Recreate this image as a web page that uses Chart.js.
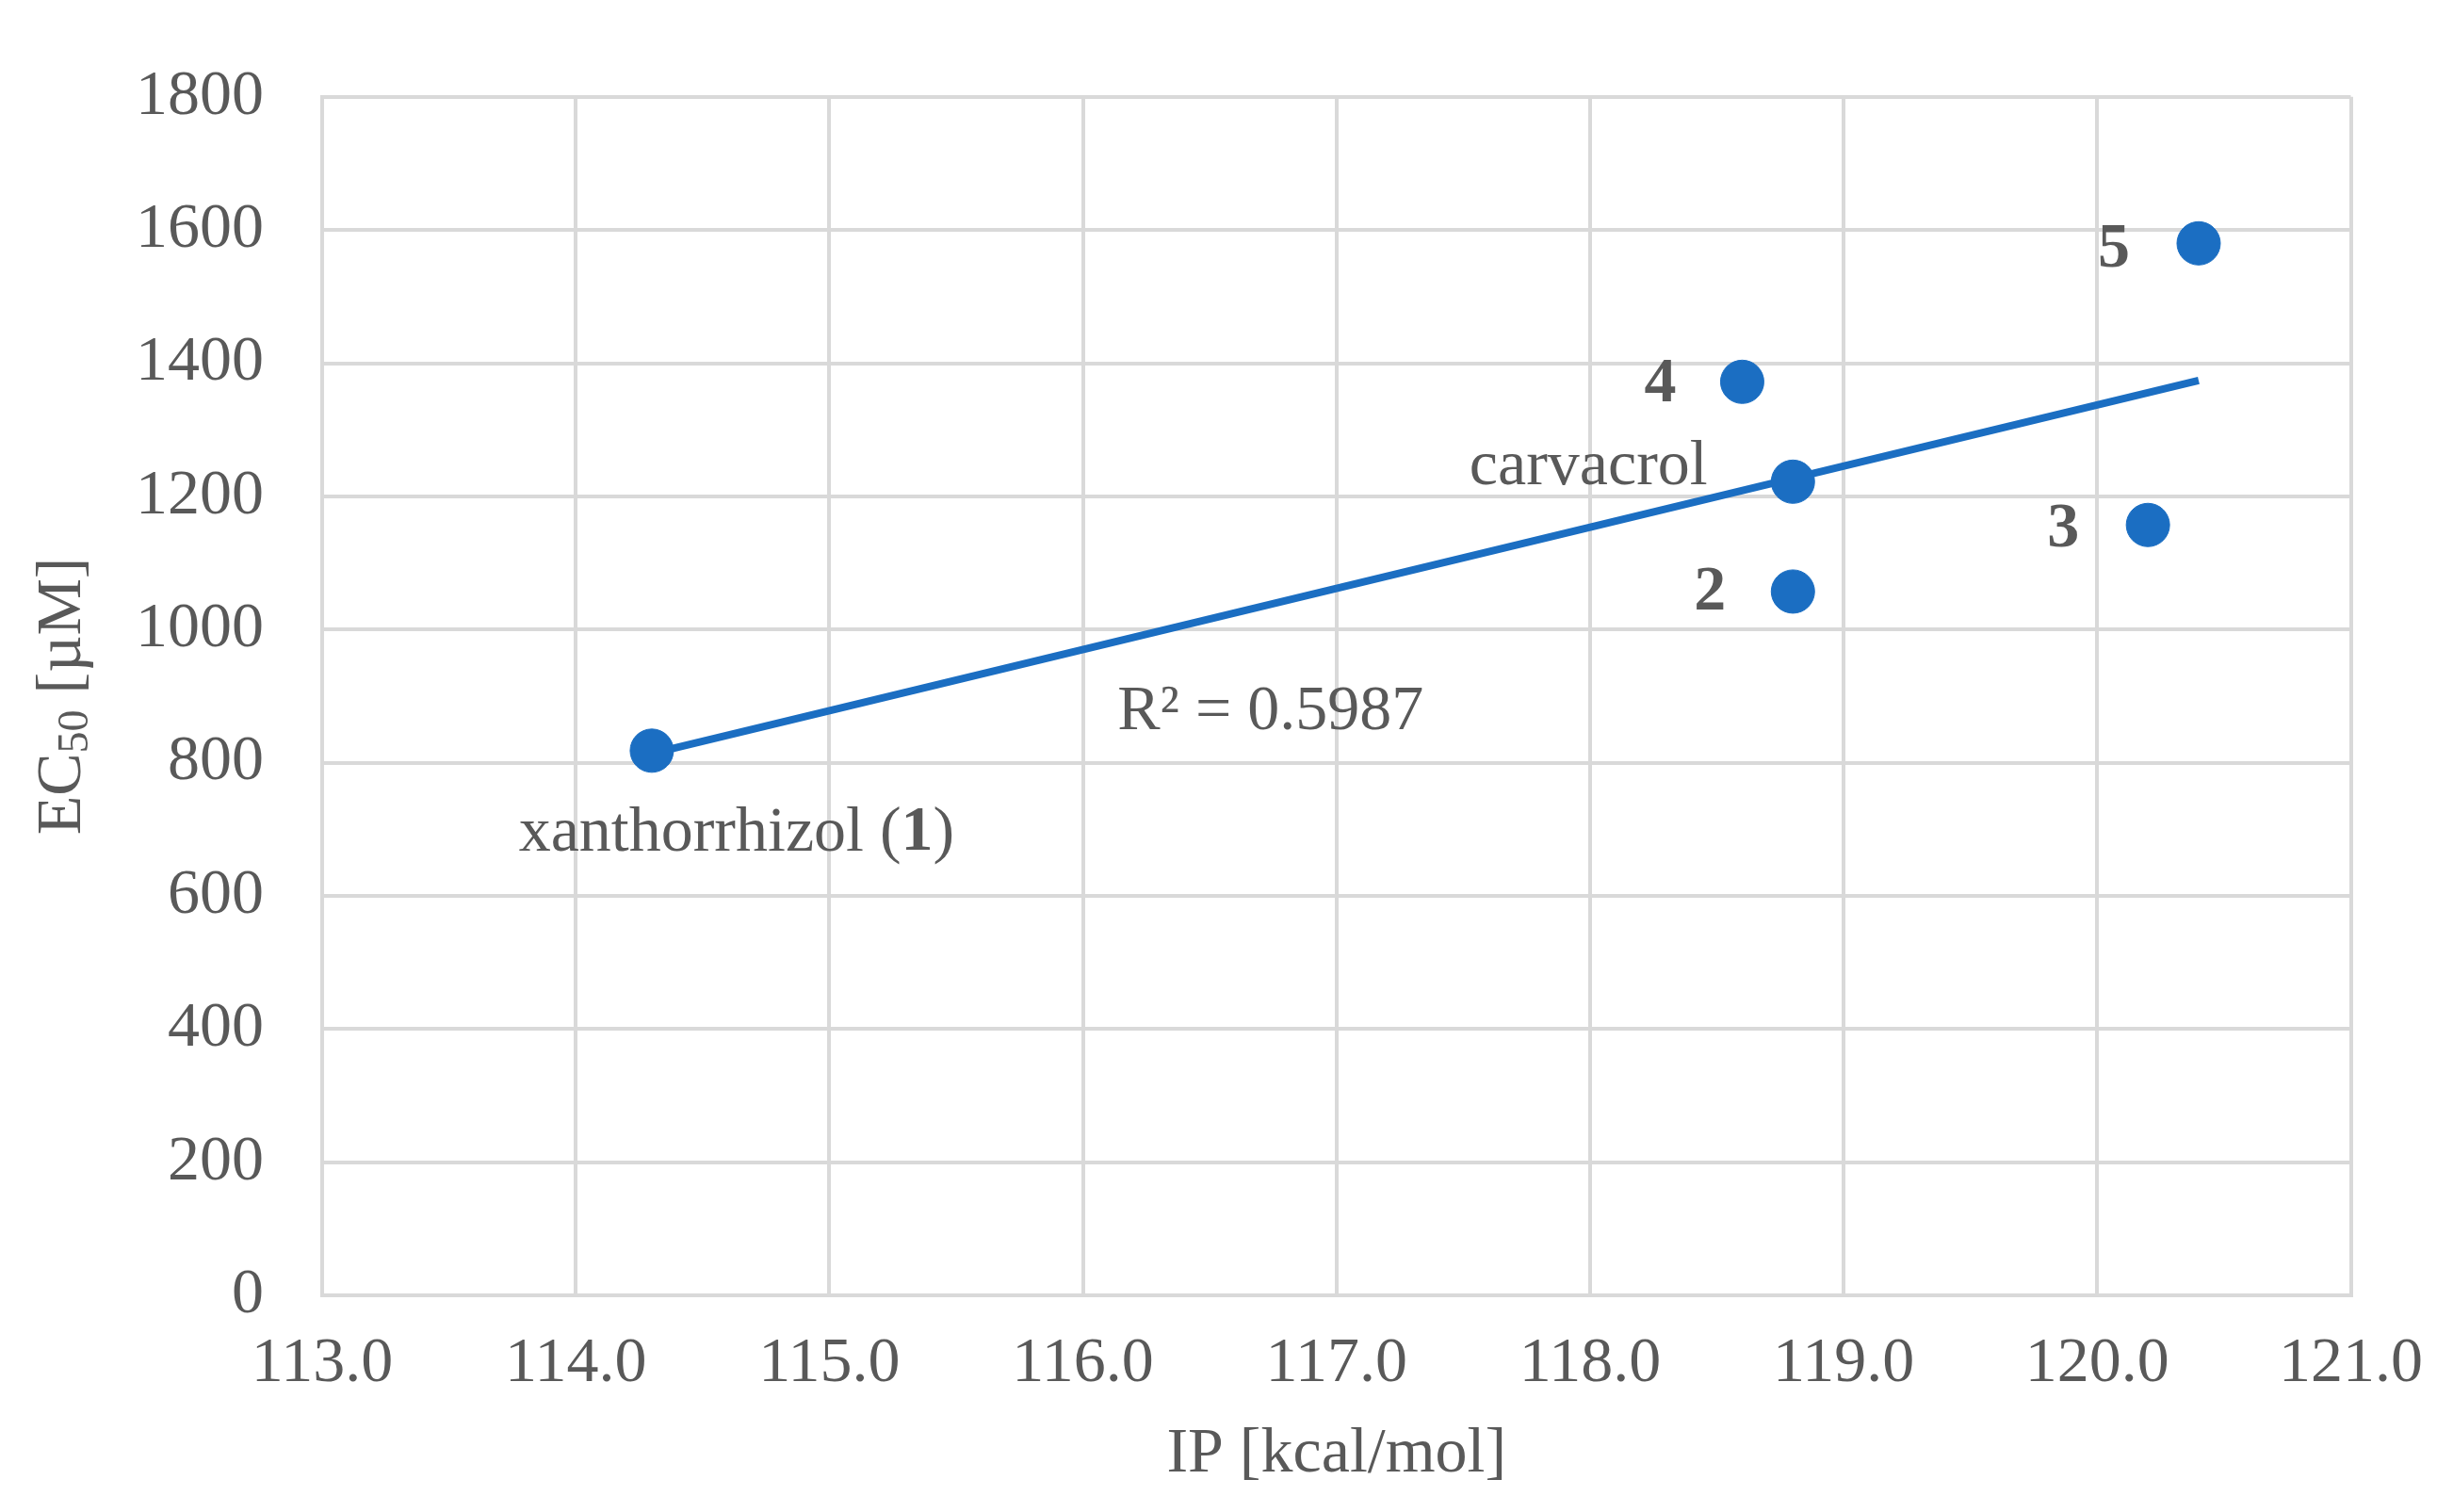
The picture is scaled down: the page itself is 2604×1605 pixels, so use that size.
<!DOCTYPE html>
<html><head><meta charset="utf-8">
<script src="https://cdn.jsdelivr.net/npm/chart.js@4/dist/chart.umd.min.js"></script>
<style>html,body{margin:0;padding:0;background:#fff}</style>
</head><body>
<canvas id="c" width="2604" height="1605"></canvas>
<script>
const ipValues = [114.3, 118.8, 118.8, 120.2, 118.6, 120.4];
const ec50Values = [818, 1222, 1057, 1157, 1372, 1580];
const pointLabels = ['xanthorrhizol (1)', 'carvacrol', '2', '3', '4', '5'];
const xTicks = [113, 114, 115, 116, 117, 118, 119, 120, 121];
const yTicks = [0, 200, 400, 600, 800, 1000, 1200, 1400, 1600, 1800];
const r2Text = 'R² = 0.5987';

const n = ipValues.length;
const mx = ipValues.reduce((a,b)=>a+b,0)/n, my = ec50Values.reduce((a,b)=>a+b,0)/n;
let sxy=0,sxx=0; for(let i=0;i<n;i++){sxy+=(ipValues[i]-mx)*(ec50Values[i]-my);sxx+=(ipValues[i]-mx)**2;}
const slope=sxy/sxx, icpt=my-slope*mx;
const xmin=Math.min(...ipValues), xmax=Math.max(...ipValues);

const GREY='#595959', FONT='"Liberation Serif", "Times New Roman", serif', BLUE='#1B6EC2', FS=68;
const labelOffsets=[[90,88],[-217,-15],[-88,2],[-90,5],[-87,3],[-90,7]];

const labelsPlugin={id:'labels',afterDatasetsDraw(ch){
  const c=ch.ctx,xs=ch.scales.x,ys=ch.scales.y;
  c.save();c.fillStyle=GREY;c.textBaseline='middle';
  pointLabels.forEach((t,i)=>{
    const px=xs.getPixelForValue(ipValues[i])+labelOffsets[i][0], py=ys.getPixelForValue(ec50Values[i])+labelOffsets[i][1];
    if(i===0){
      const parts=[['xanthorrhizol (','normal'],['1','bold'],[')','normal']];
      let w=0;parts.forEach(p=>{c.font=p[1]+' '+FS+'px '+FONT;w+=c.measureText(p[0]).width;});
      let x=px-w/2;c.textAlign='left';
      parts.forEach(p=>{c.font=p[1]+' '+FS+'px '+FONT;c.fillText(p[0],x,py);x+=c.measureText(p[0]).width;});
    } else {
      c.font=(i>=2?'bold ':'')+FS+'px '+FONT;c.textAlign='center';c.fillText(t,px,py);
    }
  });
  c.font=FS+'px '+FONT;c.textAlign='center';
  c.fillText(r2Text,xs.getPixelForValue(116.74),ys.getPixelForValue(875));
  c.translate(67,(ys.top+ys.bottom)/2);c.rotate(-Math.PI/2);
  const segs=[['EC',FS,0],['50',46,14],[' [µM]',FS,0]];
  let w=0;segs.forEach(s=>{c.font=s[1]+'px '+FONT;w+=c.measureText(s[0]).width;});
  let x=-w/2;c.textAlign='left';
  segs.forEach(s=>{c.font=s[1]+'px '+FONT;c.fillText(s[0],x,s[2]);x+=c.measureText(s[0]).width;});
  c.restore();
}};

new Chart(document.getElementById('c'),{
  type:'scatter',
  data:{datasets:[
    {data:ipValues.map((v,i)=>({x:v,y:ec50Values[i]})),backgroundColor:BLUE,borderColor:BLUE,pointRadius:23,pointHoverRadius:23,order:1},
    {type:'line',data:[{x:xmin,y:slope*xmin+icpt},{x:xmax,y:slope*xmax+icpt}],borderColor:BLUE,borderWidth:8,pointRadius:0,fill:false,order:2}
  ]},
  options:{responsive:false,animation:false,devicePixelRatio:1,
    layout:{padding:{left:0,right:95,top:8,bottom:0}},
    plugins:{legend:{display:false},tooltip:{enabled:false}},
    scales:{
      x:{type:'linear',min:113,max:121,afterBuildTicks:s=>{s.ticks=xTicks.map(v=>({value:v}));},
        afterFit:s=>{s.height=230;},
        grid:{color:'#d9d9d9',lineWidth:4,drawTicks:false},border:{color:'#d9d9d9',width:4},
        ticks:{padding:32,color:GREY,font:{family:FONT,size:FS},callback:v=>v.toFixed(1)},
        title:{display:true,text:'IP [kcal/mol]',color:GREY,font:{family:FONT,size:FS},padding:{top:0,bottom:20}}},
      y:{min:0,max:1800,afterBuildTicks:s=>{s.ticks=yTicks.map(v=>({value:v}));},
        afterFit:s=>{s.width=342;},
        grid:{color:'#d9d9d9',lineWidth:4,drawTicks:false},border:{color:'#d9d9d9',width:4},
        ticks:{padding:62,color:GREY,font:{family:FONT,size:FS},callback:v=>String(v)}}
    }},
  plugins:[labelsPlugin]
});
</script>
</body></html>
